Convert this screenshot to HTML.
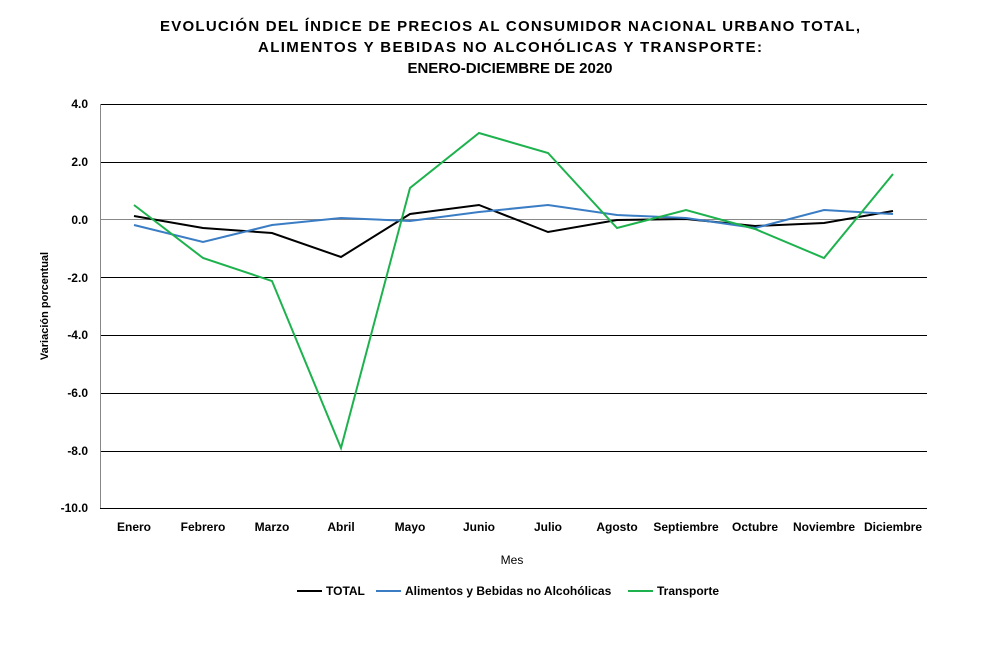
<!DOCTYPE html>
<html><head><meta charset="utf-8"><style>
body{margin:0;background:#fff}
svg text{font-family:"Liberation Sans",Arial,sans-serif}
</style></head><body>
<svg width="988" height="643" xmlns="http://www.w3.org/2000/svg">
<rect width="988" height="643" fill="#fff"/>
<g font-weight="bold" font-size="15" text-anchor="middle" fill="#000">
<text x="510" y="31" textLength="700" lengthAdjust="spacing">EVOLUCIÓN  DEL ÍNDICE DE PRECIOS AL CONSUMIDOR NACIONAL URBANO TOTAL,</text>
<text x="510" y="52" textLength="504" lengthAdjust="spacing">ALIMENTOS  Y BEBIDAS NO ALCOHÓLICAS  Y TRANSPORTE:</text>
<text x="510" y="73">ENERO-DICIEMBRE  DE 2020</text>
</g>
<g stroke="#000" stroke-width="1" shape-rendering="crispEdges">
<line x1="100" y1="104.5" x2="927" y2="104.5"/>
<line x1="100" y1="162.5" x2="927" y2="162.5"/>
<line x1="100" y1="277.5" x2="927" y2="277.5"/>
<line x1="100" y1="335.5" x2="927" y2="335.5"/>
<line x1="100" y1="393.5" x2="927" y2="393.5"/>
<line x1="100" y1="451.5" x2="927" y2="451.5"/>
<line x1="100" y1="508.5" x2="927" y2="508.5"/>
<line x1="100" y1="219.5" x2="927" y2="219.5" stroke="#888"/>
<line x1="100.5" y1="104" x2="100.5" y2="508" stroke="#888"/>
</g>
<g font-size="12" font-weight="bold" text-anchor="end">
<text x="88" y="108">4.0</text><text x="88" y="166">2.0</text><text x="88" y="224">0.0</text>
<text x="88" y="282">-2.0</text><text x="88" y="339">-4.0</text><text x="88" y="397">-6.0</text>
<text x="88" y="455">-8.0</text><text x="88" y="512">-10.0</text>
</g>
<g font-size="12" font-weight="bold" text-anchor="middle">
<text x="134" y="531">Enero</text><text x="203" y="531">Febrero</text><text x="272" y="531">Marzo</text>
<text x="341" y="531">Abril</text><text x="410" y="531">Mayo</text><text x="479" y="531">Junio</text>
<text x="548" y="531">Julio</text><text x="617" y="531">Agosto</text><text x="686" y="531">Septiembre</text>
<text x="755" y="531">Octubre</text><text x="824" y="531">Noviembre</text><text x="893" y="531">Diciembre</text>
</g>
<text x="512" y="564" font-size="12" text-anchor="middle">Mes</text>
<text transform="translate(48,306) rotate(-90)" font-size="11" font-weight="bold" text-anchor="middle">Variación  porcentual</text>
<polyline fill="none" stroke="#000" stroke-width="2" points="134,216 203,228 272,233 341,257 410,214 479,205 548,232 617,220 686,219 755,226 824,223 893,211"/>
<polyline fill="none" stroke="#3b7dc4" stroke-width="2" points="134,225 203,242 272,225 341,218 410,221 479,212 548,205 617,215 686,218 755,228 824,210 893,214"/>
<polyline fill="none" stroke="#1eb24e" stroke-width="2" points="134,205 203,258 272,281 341,448 410,188 479,133 548,153 617,228 686,210 755,229 824,258 893,174"/>
<g font-size="12" font-weight="bold">
<line x1="297" y1="591" x2="322" y2="591" stroke="#000" stroke-width="2"/><text x="326" y="595">TOTAL</text>
<line x1="376" y1="591" x2="401" y2="591" stroke="#3b7dc4" stroke-width="2"/><text x="405" y="595">Alimentos y Bebidas no Alcohólicas</text>
<line x1="628" y1="591" x2="653" y2="591" stroke="#1eb24e" stroke-width="2"/><text x="657" y="595">Transporte</text>
</g>
</svg>
</body></html>
